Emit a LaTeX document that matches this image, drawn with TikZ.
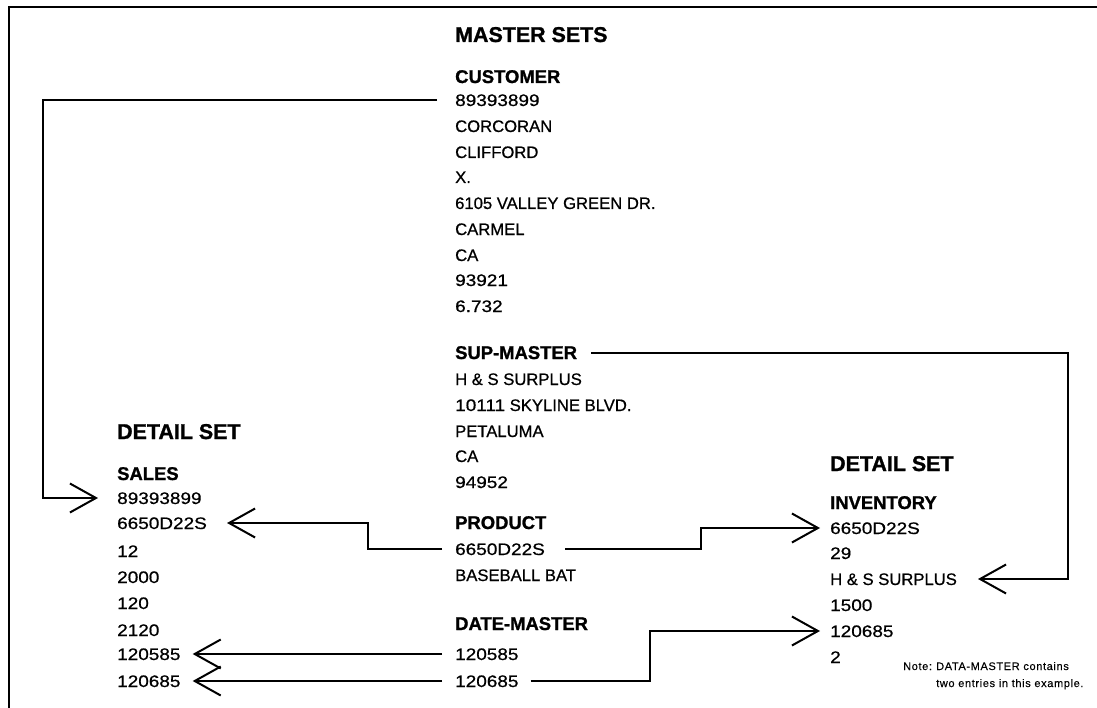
\documentclass[tikz,border=0pt]{standalone}
\usepackage{fontspec}
\setmainfont{Liberation Sans}
\newfontfamily\bodyf[FakeBold=0.7]{Liberation Sans}
\newfontfamily\digf[FakeBold=0.7,FakeStretch=1.14]{Liberation Sans}
\newfontfamily\headf[FakeBold=1.2]{Liberation Sans Bold}
\newfontfamily\notef[LetterSpace=6,FakeBold=0.3]{Liberation Sans}
\newcommand\dg[1]{{\digf #1}}
\usetikzlibrary{arrows.meta,calc}
\tikzset{
  txt/.style={anchor=base west,inner sep=0pt,font=\fontsize{16.7}{20}\bodyf},
  head/.style={anchor=base west,inner sep=0pt,font=\fontsize{21.5}{24}\headf},
  setname/.style={anchor=base west,inner sep=0pt,font=\fontsize{18.5}{22}\headf},
  note/.style={anchor=base west,inner sep=0pt,font=\fontsize{11}{13}\notef},
  conn/.style={line width=2bp,-{Straight Barb[length=26bp,width=29bp,line width=2bp]}},
  frame/.style={line width=2bp}
}
\begin{document}
\begin{tikzpicture}[x=1bp,y=-1bp]
\useasboundingbox (0,0) rectangle (1097,708);
\draw[frame] (1097,7) -- (9,7) -- (9,708);
% middle column
\def\mx{455}
\node[head] (ms) at (\mx,42) {MASTER SETS};
\node[setname] (cu) at (\mx,83) {CUSTOMER};
\node[txt] (c1) at (\mx,106) {\dg{89393899}};
\node[txt] (c2) at (\mx,132) {CORCORAN};
\node[txt] (c3) at (\mx,158) {CLIFFORD};
\node[txt] (c4) at (\mx,183) {X.};
\node[txt] (c5) at (\mx,209) {6105 VALLEY GREEN DR.};
\node[txt] (c6) at (\mx,235) {CARMEL};
\node[txt] (c7) at (\mx,261) {CA};
\node[txt] (c8) at (\mx,286) {\dg{93921}};
\node[txt] (c9) at (\mx,312) {\dg{6.732}};
\node[setname] (sm) at (\mx,359) {SUP-MASTER};
\node[txt] (s1) at (\mx,385) {H \& S SURPLUS};
\node[txt] (s2) at (\mx,411) {\dg{10111} SKYLINE BLVD.};
\node[txt] (s3) at (\mx,437) {PETALUMA};
\node[txt] (s4) at (\mx,462) {CA};
\node[txt] (s5) at (\mx,488) {\dg{94952}};
\node[setname] (pr) at (\mx,529) {PRODUCT};
\node[txt] (p1) at (\mx,555) {\dg{6650D22S}};
\node[txt] (p2) at (\mx,581) {BASEBALL BAT};
\node[setname] (dm) at (\mx,630) {DATE-MASTER};
\node[txt] (d1) at (\mx,660) {\dg{120585}};
\node[txt] (d2) at (\mx,687) {\dg{120685}};
% left column
\def\lx{117}
\node[head] (ld) at (\lx,439) {DETAIL SET};
\node[setname] (sa) at (\lx,480) {SALES};
\node[txt] (l1) at (\lx,504) {\dg{89393899}};
\node[txt] (l2) at (\lx,529) {\dg{6650D22S}};
\node[txt] (l3) at (\lx,557) {\dg{12}};
\node[txt] (l4) at (\lx,583) {\dg{2000}};
\node[txt] (l5) at (\lx,609) {\dg{120}};
\node[txt] (l6) at (\lx,636) {\dg{2120}};
\node[txt] (l7) at (\lx,660) {\dg{120585}};
\node[txt] (l8) at (\lx,687) {\dg{120685}};
% right column
\def\rx{830}
\node[head] (rd) at (\rx,471) {DETAIL SET};
\node[setname] (in) at (\rx,509) {INVENTORY};
\node[txt] (r1) at (\rx,534) {\dg{6650D22S}};
\node[txt] (r2) at (\rx,559) {\dg{29}};
\node[txt] (r3) at (\rx,585) {H \& S SURPLUS};
\node[txt] (r4) at (\rx,611) {\dg{1500}};
\node[txt] (r5) at (\rx,637) {\dg{120685}};
\node[txt] (r6) at (\rx,663) {\dg{2}};
\node[note] (n1) at (903,670) {Note:};
\node[note] (n2) at (936,670) {DATA-MASTER contains};
\node[note] (n3) at (936,687) {two entries in this example.};
% connectors
\draw[conn] ($(c1.base west)+(-18,-6)$) -| ($(l1.base west)+(-74,-6)$) -- ($(l1.base west)+(-19,-6)$);
\draw[conn] ($(p1.base west)+(-13,-6)$) -| ($(p1.base west)+(-87,-32)$) -- ($(l2.base east)+(20,-6)$);
\draw[conn] ($(p1.base east)+(20,-6)$) -| ($(r1.base west)+(-129,-6)$) -- ($(r1.base west)+(-10,-6)$);
\draw[conn] ($(sm.base east)+(14,-6)$) -| ($(r3.base west)+(238,-6)$) -- ($(r3.base west)+(148,-6)$);
\draw[conn] ($(d1.base west)+(-13,-6)$) -- ($(l7.base east)+(12,-6)$);
\draw[conn] ($(d2.base west)+(-13,-6)$) -- ($(l8.base east)+(12,-6)$);
\draw[conn] ($(d2.base east)+(12,-6)$) -| ($(r5.base west)+(-180,-6)$) -- ($(r5.base west)+(-10,-6)$);
\end{tikzpicture}
\end{document}
